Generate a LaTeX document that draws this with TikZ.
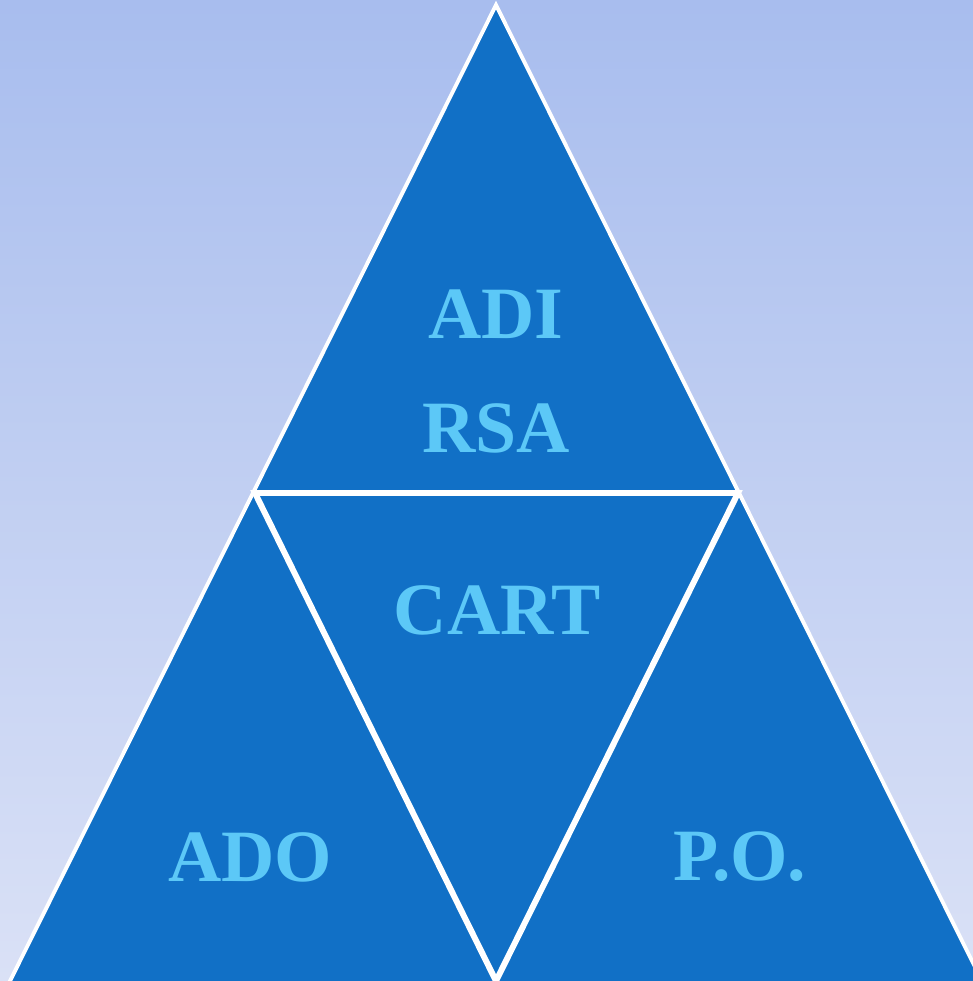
\documentclass[tikz,border=0pt]{standalone}
\usepackage{fontspec}
\setmainfont{Liberation Serif}
\definecolor{skytop}{HTML}{A8BDEE}
\definecolor{skybot}{HTML}{DAE1F6}
\definecolor{tri}{HTML}{1170C6}
\definecolor{word}{HTML}{5CC8F7}
\tikzset{
  part/.style={fill=tri,draw=white,line width=2.2pt,line join=miter},
  seam/.style={draw=white,line width=3.4pt},
  word/.style={text=word,font=\fontsize{42}{42}\selectfont\bfseries}
}
\begin{document}
\begin{tikzpicture}[x=0.02cm,y=-0.02cm]
        \useasboundingbox (0,0) rectangle (973,981);
        \clip (0,0) rectangle (973,981);
        \shade[top color=skytop,bottom color=skybot] (0,0) rectangle (973,981);
        % corners
        \coordinate (apex) at (496,5);
        \coordinate (ml) at (255,493);
        \coordinate (mr) at (738,493);
        \coordinate (bl) at (9,983);
        \coordinate (bm) at (496,981);
        \coordinate (br) at (983,983);
        % outer shape and the seams between parts
        \draw[part] (apex) -- (br) -- (bl) -- cycle;
        \draw[seam] (ml) -- (mr) -- (bm) -- cycle;
        \node[word] (adi) at (496,314) {ADI};
        \node[word] (rsa) at (496,428) {RSA};
        \node[word] (cart) at (497,610) {CART};
        \node[word] (ado) at (250,857) {ADO};
        \node[word] (po) at (740,857) {P.O.};
    \end{tikzpicture}
\end{document}
